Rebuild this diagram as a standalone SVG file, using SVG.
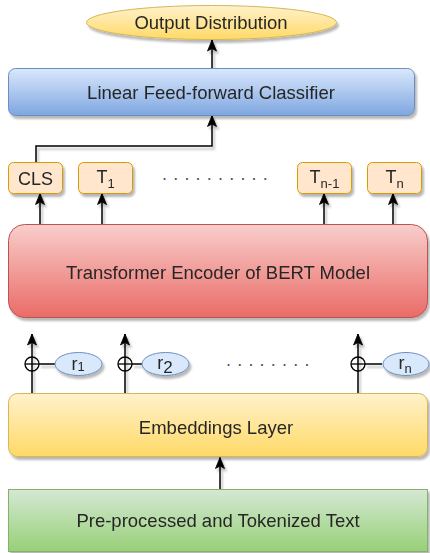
<svg xmlns="http://www.w3.org/2000/svg" width="430" height="553" viewBox="0 0 430 553">
  <style>
    text { font-family: "Liberation Sans", Arial, Helvetica, sans-serif; fill: #262626; }
    .lbl { font-size: 18.5px; text-anchor: middle; }
    .tok { font-size: 18px; text-anchor: middle; }
    .sub { font-size: 13px; }
    .rl { font-size: 18px; text-anchor: middle; }
    .edge { stroke: #000; stroke-width: 1.5; fill: none; }
    .dots { font-size: 18px; fill: #555; letter-spacing: 6.2px; }
  </style>
  <defs>
    <filter id="shadow" filterUnits="userSpaceOnUse" x="0" y="0" width="430" height="553">
      <feGaussianBlur in="SourceAlpha" stdDeviation="0.8"/>
      <feOffset dx="2" dy="3" result="b"/>
      <feFlood flood-color="#000" flood-opacity="0.28"/>
      <feComposite in2="b" operator="in"/>
      <feMerge><feMergeNode/><feMergeNode in="SourceGraphic"/></feMerge>
    </filter>
    <!-- classic block arrowhead, drawn along +x with the tip at the end point -->
    <marker id="arrow" markerUnits="userSpaceOnUse" markerWidth="12" markerHeight="10" viewBox="0 0 12 10" refX="11.5" refY="5" orient="auto">
      <path d="M11.5,5 L0.5,0.5 L3,5 L0.5,9.5 Z" fill="#000" stroke="#000" stroke-width="0.8" stroke-linejoin="miter"/>
    </marker>
    <linearGradient id="gBlue" x1="0" y1="0" x2="0" y2="1"><stop offset="0" stop-color="#dae8fc"/><stop offset="1" stop-color="#7ea6e0"/></linearGradient>
    <linearGradient id="gRed" x1="0" y1="0" x2="0" y2="1"><stop offset="0" stop-color="#f8cecc"/><stop offset="1" stop-color="#ea6b66"/></linearGradient>
    <linearGradient id="gYellow" x1="0" y1="0" x2="0" y2="1"><stop offset="0" stop-color="#fff2cc"/><stop offset="1" stop-color="#ffd966"/></linearGradient>
    <linearGradient id="gGreen" x1="0" y1="0" x2="0" y2="1"><stop offset="0" stop-color="#d5e8d4"/><stop offset="1" stop-color="#97d077"/></linearGradient>
  </defs>

  <!-- connectors -->
  <g id="connectors" filter="url(#shadow)">
    <path class="edge" d="M212,68 V40" marker-end="url(#arrow)"/>
    <path class="edge" d="M36,162 V146 H212 V115.5" marker-end="url(#arrow)"/>
    <path class="edge" d="M40,224 V193.5" marker-end="url(#arrow)"/>
    <path class="edge" d="M102,224 V193.5" marker-end="url(#arrow)"/>
    <path class="edge" d="M324,224 V193.5" marker-end="url(#arrow)"/>
    <path class="edge" d="M393,224 V193.5" marker-end="url(#arrow)"/>
    <path class="edge" d="M32,393 V334" marker-end="url(#arrow)"/>
    <path class="edge" d="M125,393 V334" marker-end="url(#arrow)"/>
    <path class="edge" d="M358,393 V334" marker-end="url(#arrow)"/>
    <path class="edge" d="M39,364 H55"/>
    <path class="edge" d="M132,364 H142"/>
    <path class="edge" d="M365,364 H382"/>
    <path class="edge" d="M220,489 V457.5" marker-end="url(#arrow)"/>
  </g>

  <!-- output -->
  <g id="output" filter="url(#shadow)">
    <ellipse cx="211.5" cy="22.5" rx="125" ry="17" fill="url(#gYellow)" stroke="#d6b656"/>
    <text class="lbl" x="211" y="29">Output Distribution</text>
  </g>

  <g id="classifier" filter="url(#shadow)">
    <rect x="8.5" y="68.5" width="406" height="47" rx="7" fill="url(#gBlue)" stroke="#6c8ebf"/>
    <text class="lbl" x="211" y="99">Linear Feed-forward Classifier</text>
  </g>

  <!-- output tokens -->
  <g id="tok-cls" filter="url(#shadow)">
    <rect x="8.5" y="162.5" width="54" height="31" rx="5" fill="#ffe6cc" stroke="#d79b00"/>
    <text class="tok" x="35.5" y="185">CLS</text>
  </g>
  <g id="tok-1" filter="url(#shadow)">
    <rect x="78.5" y="162.5" width="54" height="31" rx="5" fill="#ffe6cc" stroke="#d79b00"/>
    <text class="tok" x="105.5" y="183">T<tspan class="sub" dy="5">1</tspan></text>
  </g>
  <g id="tok-dots">
    <text class="dots" x="162" y="180">..........</text>
  </g>
  <g id="tok-n-1" filter="url(#shadow)">
    <rect x="297.5" y="162.5" width="54" height="31" rx="5" fill="#ffe6cc" stroke="#d79b00"/>
    <text class="tok" x="324.5" y="183">T<tspan class="sub" dy="5">n-1</tspan></text>
  </g>
  <g id="tok-n" filter="url(#shadow)">
    <rect x="367.5" y="162.5" width="54" height="31" rx="5" fill="#ffe6cc" stroke="#d79b00"/>
    <text class="tok" x="394.5" y="183">T<tspan class="sub" dy="5">n</tspan></text>
  </g>

  <g id="encoder" filter="url(#shadow)">
    <rect x="8.5" y="224.5" width="419" height="93" rx="16" fill="url(#gRed)" stroke="#b85450"/>
    <text class="lbl" x="218" y="279">Transformer Encoder of BERT Model</text>
  </g>

  <!-- positional additions -->
  <g id="add-1">
    <circle cx="32" cy="364" r="7" fill="none" stroke="#000" stroke-width="1.3"/>
    <path d="M25,364 H39" stroke="#000" stroke-width="1.3"/>
  </g>
  <g id="add-2">
    <circle cx="125" cy="364" r="7" fill="none" stroke="#000" stroke-width="1.3"/>
    <path d="M118,364 H132" stroke="#000" stroke-width="1.3"/>
  </g>
  <g id="add-n">
    <circle cx="358" cy="364" r="7" fill="none" stroke="#000" stroke-width="1.3"/>
    <path d="M351,364 H365" stroke="#000" stroke-width="1.3"/>
  </g>
  <g id="r-1" filter="url(#shadow)">
    <ellipse cx="78.5" cy="364" rx="23.5" ry="11.5" fill="#dae8fc" stroke="#6c8ebf"/>
    <text class="rl" x="78" y="370">r<tspan class="sub" font-size="12px" dy="1">1</tspan></text>
  </g>
  <g id="r-2" filter="url(#shadow)">
    <ellipse cx="165.5" cy="364" rx="23.5" ry="11.5" fill="#dae8fc" stroke="#6c8ebf"/>
    <text class="rl" x="165" y="369">r<tspan font-size="17px" dy="4">2</tspan></text>
  </g>
  <g id="pos-dots">
    <text class="dots" x="226" y="366">........</text>
  </g>
  <g id="r-n" filter="url(#shadow)">
    <ellipse cx="406" cy="364" rx="23" ry="11.5" fill="#dae8fc" stroke="#6c8ebf"/>
    <text class="rl" x="405" y="369">r<tspan class="sub" font-size="12px" dy="4">n</tspan></text>
  </g>

  <g id="embeddings" filter="url(#shadow)">
    <rect x="8.5" y="393.5" width="419" height="63" rx="9" fill="url(#gYellow)" stroke="#d6b656"/>
    <text class="lbl" x="216" y="434">Embeddings Layer</text>
  </g>

  <g id="input" filter="url(#shadow)">
    <rect x="8.5" y="489.5" width="419" height="62" fill="url(#gGreen)" stroke="#82b366"/>
    <text class="lbl" x="218" y="527">Pre-processed and Tokenized Text</text>
  </g>
</svg>
